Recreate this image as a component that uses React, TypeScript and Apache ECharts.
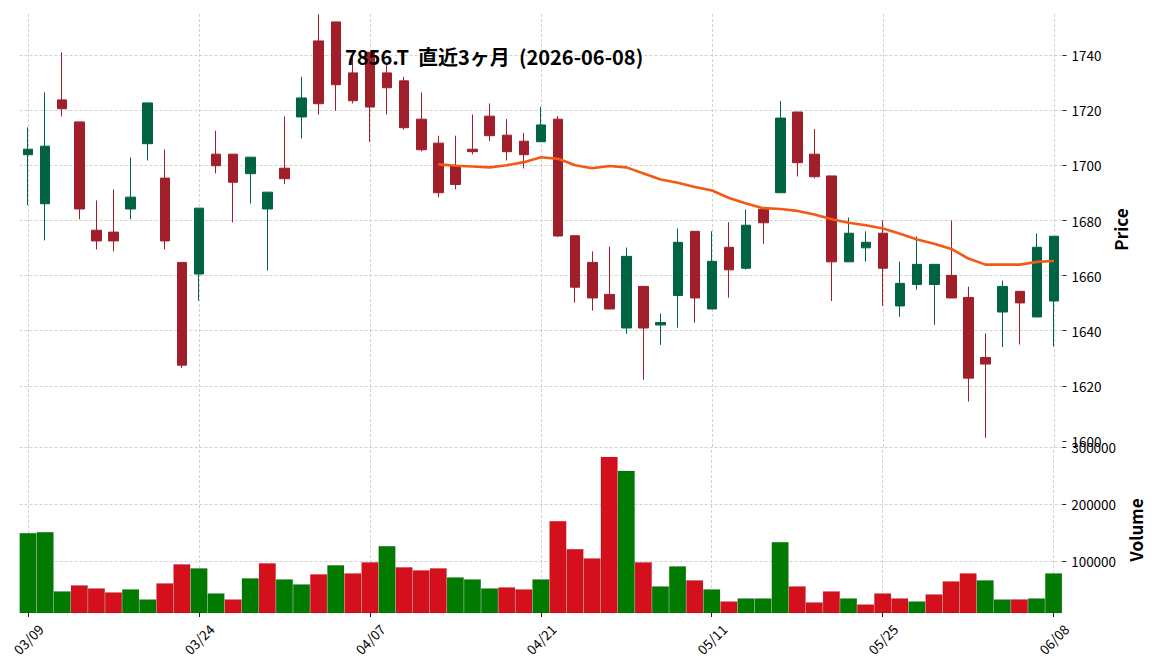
import React, { useEffect, useRef } from 'react';
import * as echarts from 'echarts';

const dates = [
  '03/09', '03/10', '03/11', '03/12', '03/13', '03/16', '03/17', '03/18', '03/19', '03/23',
  '03/24', '03/25', '03/26', '03/27', '03/30', '03/31', '04/01', '04/02', '04/03', '04/06',
  '04/07', '04/08', '04/09', '04/10', '04/13', '04/14', '04/15', '04/16', '04/17', '04/20',
  '04/21', '04/22', '04/23', '04/24', '04/27', '04/28', '04/30', '05/01', '05/07', '05/08',
  '05/11', '05/12', '05/13', '05/14', '05/15', '05/18', '05/19', '05/20', '05/21', '05/22',
  '05/25', '05/26', '05/27', '05/28', '05/29', '06/01', '06/02', '06/03', '06/04', '06/05',
  '06/08',
];

const opens = [
  1703.9, 1686.1, 1723.8, 1715.8, 1676.5, 1675.8, 1684.2, 1707.9, 1695.4, 1664.8,
  1660.6, 1704.1, 1704.1, 1697.0, 1684.2, 1699.0, 1717.6, 1745.2, 1752.1, 1733.6,
  1741.1, 1733.6, 1730.7, 1716.8, 1708.1, 1700.0, 1705.9, 1717.9, 1711.0, 1708.8,
  1708.6, 1716.8, 1674.5, 1664.8, 1653.2, 1641.0, 1656.1, 1642.1, 1652.8, 1676.1,
  1647.9, 1670.3, 1662.7, 1684.1, 1690.1, 1719.4, 1704.1, 1696.2, 1665.0, 1670.1,
  1675.4, 1649.0, 1656.8, 1656.8, 1660.1, 1652.1, 1630.3, 1646.8, 1654.3, 1645.0,
  1650.8,
];
const highs = [
  1713.8, 1726.5, 1741.0, 1715.8, 1687.3, 1691.3, 1702.9, 1722.7, 1705.8, 1664.8,
  1684.5, 1712.6, 1704.1, 1703.0, 1690.3, 1717.8, 1732.2, 1754.9, 1752.1, 1739.2,
  1741.1, 1736.4, 1732.2, 1726.5, 1710.8, 1710.8, 1718.5, 1722.5, 1716.8, 1711.8,
  1721.3, 1717.9, 1674.5, 1668.8, 1670.5, 1670.2, 1656.1, 1646.2, 1677.1, 1676.1,
  1676.1, 1679.4, 1684.0, 1684.5, 1723.4, 1719.4, 1713.2, 1696.2, 1681.1, 1676.1,
  1680.0, 1665.1, 1674.2, 1664.1, 1680.0, 1656.0, 1639.0, 1658.2, 1654.3, 1675.3,
  1674.3,
];
const lows = [
  1685.6, 1672.8, 1717.8, 1680.5, 1669.5, 1668.8, 1680.5, 1701.8, 1669.5, 1626.5,
  1650.9, 1697.1, 1679.3, 1686.2, 1661.9, 1693.2, 1709.8, 1718.5, 1719.8, 1722.5,
  1708.6, 1718.5, 1713.0, 1705.1, 1688.4, 1691.3, 1704.0, 1708.8, 1701.8, 1698.9,
  1708.6, 1674.0, 1650.2, 1647.3, 1647.9, 1638.9, 1622.2, 1634.9, 1641.1, 1642.9,
  1647.9, 1652.0, 1662.2, 1671.5, 1690.1, 1696.0, 1695.3, 1650.8, 1665.0, 1665.1,
  1649.0, 1645.1, 1654.9, 1642.2, 1651.9, 1614.3, 1601.1, 1634.1, 1635.0, 1645.0,
  1634.3,
];
const closes = [
  1705.9, 1707.0, 1720.6, 1684.2, 1672.6, 1672.6, 1688.5, 1722.7, 1672.6, 1627.5,
  1684.5, 1699.9, 1693.9, 1703.0, 1690.3, 1695.2, 1724.5, 1722.4, 1729.3, 1723.5,
  1721.2, 1728.2, 1713.7, 1705.7, 1690.1, 1693.1, 1705.0, 1710.8, 1705.0, 1703.9,
  1714.7, 1674.4, 1655.8, 1651.9, 1647.9, 1667.0, 1641.0, 1643.0, 1672.1, 1651.9,
  1665.2, 1662.1, 1678.3, 1679.2, 1717.2, 1701.0, 1695.9, 1665.0, 1675.4, 1672.1,
  1662.7, 1657.2, 1664.1, 1664.1, 1651.9, 1622.8, 1627.9, 1656.1, 1650.1, 1670.3,
  1674.3,
];

// 25-day moving average (starts on 04/13)
const ma25 = [
  null, null, null, null, null, null, null, null, null, null,
  null, null, null, null, null, null, null, null, null, null,
  null, null, null, null, 1700.4, 1699.9, 1699.6, 1699.3, 1700.1, 1701.2,
  1703.0, 1702.4, 1700.1, 1699.0, 1699.8, 1699.3, 1697.1, 1694.9, 1693.7, 1692.2,
  1690.9, 1688.2, 1686.2, 1684.5, 1684.2, 1683.5, 1682.2, 1680.5, 1679.2, 1678.3,
  1677.1, 1675.2, 1673.1, 1671.6, 1669.7, 1666.2, 1664.0, 1664.0, 1664.0, 1665.0,
  1665.3,
];

const volumes = [
  149700, 151500, 48000, 58500, 53200, 46200, 51500, 33900, 62000, 95300,
  88300, 44400, 33900, 70800, 97100, 69000, 60200, 77800, 93600, 79500,
  98800, 126900, 90100, 84800, 88300, 72500, 69000, 53200, 55000, 51500,
  69000, 170800, 121600, 105800, 283000, 258500, 98800, 56700, 91800, 67300,
  51500, 30400, 35700, 35700, 133900, 56700, 28700, 48000, 35700, 25100,
  44400, 35700, 30400, 42700, 65500, 79500, 67300, 33900, 33900, 35700,
  79500,
];
// 1 = close above previous close (green), 0 = below (red)
const volumeUp = [
  1, 1, 1, 0, 0, 0, 1, 1, 0, 0,
  1, 1, 0, 1, 0, 1, 1, 0, 1, 0,
  0, 1, 0, 0, 0, 1, 1, 1, 0, 0,
  1, 0, 0, 0, 0, 1, 0, 1, 1, 0,
  1, 0, 1, 1, 1, 0, 0, 0, 1, 0,
  0, 0, 1, 0, 0, 0, 1, 1, 0, 1,
  1,
];

const xTickLabels = ['03/09', '03/24', '04/07', '04/21', '05/11', '05/25', '06/08'];
const priceTicks = [1600, 1620, 1640, 1660, 1680, 1700, 1720, 1740];
const priceGridLines = [1620, 1640, 1660, 1680, 1700, 1720, 1740];
const volumeTicks = [100000, 200000, 300000];

const TITLE = '7856.T  直近3ヶ月  (2026-06-08)';
const FONT = "'Noto Sans CJK JP', 'Noto Sans', sans-serif";
const UP = '#006341';
const DOWN = '#a01f2a';
const VOL_UP = '#007a00';
const VOL_DOWN = '#d4101c';
const GRID = '#c6c6c6';

export default function App() {
  const ref = useRef<HTMLDivElement>(null);

  useEffect(() => {
    if (!ref.current) return;
    const chart = echarts.init(ref.current, undefined, { renderer: 'svg' });

    const gridLineStyle = { color: GRID, width: 0.8, type: [3, 2] as any };
    const vLines = xTickLabels.map((d) => ({ xAxis: d }));

    const axisLabelStyle = { fontFamily: FONT, fontSize: 13.5, color: '#000' };
    const plain = (v: number) => String(v);

    const option: any = {
      animation: false,
      backgroundColor: '#ffffff',
      title: {
        text: TITLE,
        left: 340,
        top: 37,
        textStyle: { fontFamily: FONT, fontWeight: 'bold', fontSize: 20, color: '#000', lineHeight: 28 },
        z: 10,
      },
      grid: [
        { left: 19.5, width: 1043, top: 12, height: 435 },
        { left: 19.5, width: 1043, top: 447, height: 166 },
      ],
      xAxis: [
        {
          type: 'category', gridIndex: 0, data: dates, boundaryGap: true,
          axisLine: { show: false }, axisTick: { show: false }, axisLabel: { show: false },
          splitLine: { show: false },
        },
        {
          type: 'category', gridIndex: 1, data: dates, boundaryGap: true,
          axisLine: { show: false },
          axisTick: {
            show: true, alignWithLabel: true, length: 4,
            interval: (_i: number, v: string) => xTickLabels.includes(v),
            lineStyle: { color: '#222', width: 1 },
          },
          axisLabel: {
            ...axisLabelStyle,
            interval: (_i: number, v: string) => xTickLabels.includes(v),
            rotate: 45, align: 'center', verticalAlign: 'middle', margin: 26,
          },
          splitLine: { show: false },
        },
      ],
      yAxis: [
        {
          type: 'value', gridIndex: 0, position: 'right', min: 1597.8, max: 1755.7,
          axisLine: { show: false },
          axisTick: { show: true, length: 4, customValues: priceTicks, lineStyle: { color: '#222' } },
          axisLabel: { ...axisLabelStyle, customValues: priceTicks, margin: 9, formatter: plain },
          splitLine: { show: false },
          name: 'Price', nameLocation: 'middle', nameGap: 40,
          nameTextStyle: { fontFamily: FONT, fontWeight: 'bold', fontSize: 17, color: '#000' },
        },
        {
          type: 'value', gridIndex: 1, position: 'right', min: 10000, max: 300000,
          axisLine: { show: false },
          axisTick: { show: true, length: 4, customValues: volumeTicks, lineStyle: { color: '#222' } },
          axisLabel: { ...axisLabelStyle, customValues: volumeTicks, margin: 9, formatter: plain },
          splitLine: { show: false },
          name: 'Volume', nameLocation: 'middle', nameGap: 58,
          nameTextStyle: { fontFamily: FONT, fontWeight: 'bold', fontSize: 17, color: '#000' },
        },
      ],
      series: [
        {
          type: 'candlestick', xAxisIndex: 0, yAxisIndex: 0, z: 2,
          data: opens.map((o, i) => [o, closes[i], lows[i], highs[i]]),
          barWidth: 10,
          itemStyle: { color: UP, color0: DOWN, borderColor: UP, borderColor0: DOWN, borderWidth: 1 },
          markLine: {
            silent: true, z: 1, symbol: ['none', 'none'], label: { show: false },
            lineStyle: gridLineStyle, emphasis: { disabled: true },
            data: [...vLines, ...priceGridLines.map((v) => ({ yAxis: v }))],
          },
        },
        {
          type: 'line', xAxisIndex: 0, yAxisIndex: 0, z: 3,
          data: ma25, showSymbol: false, symbol: 'none', connectNulls: false,
          lineStyle: { color: '#f25a14', width: 2.6 },
        },
        {
          type: 'bar', xAxisIndex: 1, yAxisIndex: 1, z: 2,
          barCategoryGap: '0%',
          data: volumes.map((v, i) => ({
            value: v,
            itemStyle: {
              color: volumeUp[i] ? VOL_UP : VOL_DOWN,
              borderColor: 'rgba(0,0,0,0.18)',
              borderWidth: 0.5,
            },
          })),
          markLine: {
            silent: true, z: 1, symbol: ['none', 'none'], label: { show: false },
            lineStyle: gridLineStyle, emphasis: { disabled: true },
            data: [...vLines, ...volumeTicks.map((v) => ({ yAxis: v }))],
          },
        },
      ],
    };

    chart.setOption(option);
    return () => chart.dispose();
  }, []);

  return (
    <div
      ref={ref}
      style={{ position: 'absolute', left: 0, top: 0, width: 1152, height: 670, background: '#fff' }}
    />
  );
}
